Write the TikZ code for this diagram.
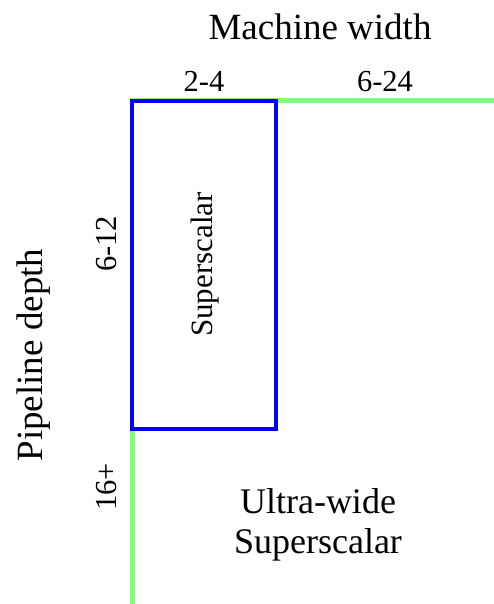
\documentclass[tikz,border=0pt]{standalone}
\usepackage{fontspec}
\setmainfont{Liberation Serif}
\definecolor{lgreen}{RGB}{128,255,128}
\definecolor{pblue}{RGB}{0,0,255}
\begin{document}
\begin{tikzpicture}[x=1pt,y=-1pt,
  axis/.style={font=\fontsize{37}{42}\selectfont, inner sep=0pt},
  tick/.style={font=\fontsize{30.5}{36}\selectfont, inner sep=0pt},
  region/.style={font=\fontsize{36}{40}\selectfont, inner sep=0pt, align=center},
  gline/.style={draw=lgreen, line width=5pt},
  bbox/.style={draw=pblue, line width=4.5pt}]
\useasboundingbox (0,0) rectangle (494,604);
\coordinate (tl) at (130,100.5);
\coordinate (tr) at (494,100.5);
\coordinate (bl) at (132,429);
\coordinate (bb) at (132,604);
\draw[gline] (tl) -- (tr);
\draw[gline] (bl) -- (bb);
\node[bbox, minimum width=144pt, minimum height=328pt, inner sep=0pt] (box) at (204,265) {};
\node[axis, anchor=base] (mw) at (320,40) {Machine width};
\node[tick, anchor=base] (w1) at (204,92) {2-4};
\node[tick, anchor=base] (w2) at (385,92) {6-24};
\node[axis, anchor=base, rotate=90] (pd) at (42,355) {Pipeline depth};
\node[tick, anchor=base, rotate=90] (d1) at (116.5,244) {6-12};
\node[tick, anchor=base, rotate=90] (d2) at (116.5,487) {16+};
\node[tick, anchor=base, rotate=90, font=\fontsize{31}{36}\selectfont] (ss) at (212,264.5) {Superscalar};
\node[region, anchor=north] (uw) at (318,488) {Ultra-wide\\Superscalar};
\end{tikzpicture}
\end{document}
